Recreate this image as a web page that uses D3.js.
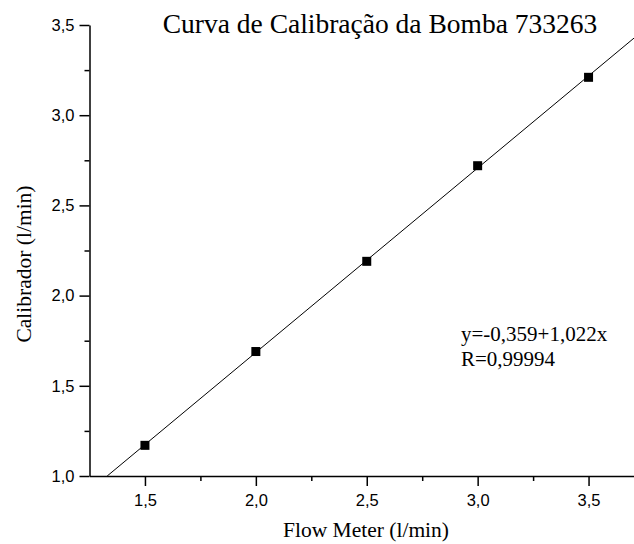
<!DOCTYPE html>
<html>
<head>
<meta charset="utf-8">
<script src="https://cdn.jsdelivr.net/npm/d3@7"></script>
<style>
  html, body { margin: 0; padding: 0; background: #fff; }
  svg { display: block; }
</style>
</head>
<body>
<svg id="chart" width="634" height="544"></svg>
<script>
// Calibration measurements: flow meter reading vs calibrator reading (l/min)
const flowMeter = [1.5, 2.0, 2.5, 3.0, 3.5];
const calibrador = [1.17, 1.69, 2.19, 2.72, 3.21];

// Linear fit y = a + b x
const fitIntercept = -0.359;
const fitSlope = 1.022;
const fitR = "0,99994";

const xTicks = [1.5, 2.0, 2.5, 3.0, 3.5];
const yTicks = [1.0, 1.5, 2.0, 2.5, 3.0, 3.5];
const xMinorTicks = [1.75, 2.25, 2.75, 3.25];
const yMinorTicks = [1.25, 1.75, 2.25, 2.75, 3.25];

const svg = d3.select("#chart");
const plotLeft = 89.5, plotBottom = 476, plotTop = 25;

const x = d3.scaleLinear().domain([1.25, 3.75]).range([plotLeft, plotLeft + 2.5 * 221.8]);
const y = d3.scaleLinear().domain([1.0, 3.5]).range([plotBottom, plotTop]);

const fmt = d => d.toFixed(1).replace(".", ",");
const fmt3 = v => v.toFixed(3).replace(".", ",");
const tickFont = "'Liberation Sans', Arial, sans-serif";
const serif = "'Liberation Serif', 'Times New Roman', serif";

// Clip for the plot area
svg.append("clipPath").attr("id", "plot")
  .append("rect").attr("x", plotLeft).attr("y", plotTop - 20)
  .attr("width", x(3.75) - plotLeft).attr("height", plotBottom - plotTop + 20);

// Fitted line, clipped to the plot area
const xStart = (1.0 - fitIntercept) / fitSlope;
const lineData = [xStart, 3.75].map(v => [v, fitIntercept + fitSlope * v]);
svg.append("path")
  .attr("clip-path", "url(#plot)")
  .attr("d", d3.line().x(d => x(d[0])).y(d => y(d[1]))(lineData))
  .attr("fill", "none").attr("stroke", "#000").attr("stroke-width", 1);

// Axes
svg.append("g").attr("transform", `translate(0,${plotBottom})`)
  .call(d3.axisBottom(x).tickValues(xTicks).tickFormat(fmt).tickSize(10).tickPadding(8).tickSizeOuter(0));
svg.append("g").attr("transform", `translate(0,${plotBottom})`)
  .call(d3.axisBottom(x).tickValues(xMinorTicks).tickFormat("").tickSize(5).tickSizeOuter(0))
  .select(".domain").remove();

svg.append("g").attr("transform", `translate(${plotLeft},0)`)
  .call(d3.axisLeft(y).tickValues(yTicks).tickFormat(fmt).tickSize(10).tickPadding(5).tickSizeOuter(0));
svg.append("g").attr("transform", `translate(${plotLeft},0)`)
  .call(d3.axisLeft(y).tickValues(yMinorTicks).tickFormat("").tickSize(5).tickSizeOuter(0))
  .select(".domain").remove();

svg.selectAll(".domain, .tick line").attr("stroke", "#000").attr("stroke-width", 1.5);
svg.selectAll(".tick text").attr("font-family", tickFont).attr("font-size", 16.5).attr("fill", "#000");

// Data markers
const size = 9;
svg.append("g").selectAll("rect").data(flowMeter).join("rect")
  .attr("x", d => x(d) - size / 2)
  .attr("y", (d, i) => y(calibrador[i]) - size / 2)
  .attr("width", size).attr("height", size)
  .attr("fill", "#000");

// Title
svg.append("text").attr("x", 380).attr("y", 33)
  .attr("text-anchor", "middle").attr("font-family", serif).attr("font-size", 27.5)
  .text("Curva de Calibração da Bomba 733263");

// Axis titles
svg.append("text").attr("x", 366).attr("y", 537)
  .attr("text-anchor", "middle").attr("font-family", serif).attr("font-size", 21.5)
  .text("Flow Meter (l/min)");
svg.append("text").attr("transform", "translate(31,264) rotate(-90)")
  .attr("text-anchor", "middle").attr("font-family", serif).attr("font-size", 21.5)
  .text("Calibrador (l/min)");

// Fit annotation
const ann = svg.append("text").attr("font-family", serif).attr("font-size", 21);
ann.append("tspan").attr("x", 461).attr("y", 341).text(`y=${fmt3(fitIntercept)}+${fmt3(fitSlope)}x`);
ann.append("tspan").attr("x", 461).attr("y", 366).text("R=" + fitR);
</script>
</body>
</html>
